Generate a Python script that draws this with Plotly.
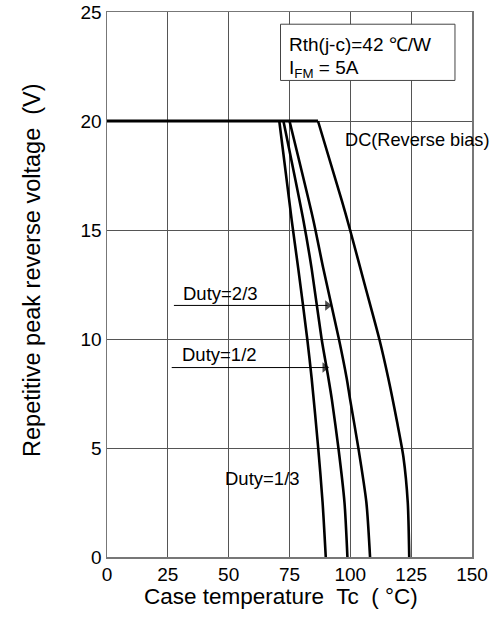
import plotly.graph_objects as go

# ---- data ----
x_ticks = [0, 25, 50, 75, 100, 125, 150]
y_ticks = [0, 5, 10, 15, 20, 25]

rated_temp = [0, 86.7]
rated_v = [20, 20]

duty13_temp = [70.8, 75.9, 78.6, 82.3, 84.1, 86.8, 88.6, 89.9]
duty13_v = [20, 15.45, 13.23, 10, 8.2, 5, 2.5, 0]

duty12_temp = [72.5, 80.7, 84.1, 88.2, 91.0, 92.4, 95.1, 97.6, 98.8]
duty12_v = [20, 15.45, 13.23, 10, 8.2, 7.23, 5, 2.5, 0]

duty23_temp = [75.0, 84.8, 88.9, 95.3, 98.5, 99.9, 103.3, 106.6, 108.1]
duty23_v = [20, 15.45, 13.23, 10, 8.2, 7.23, 5, 2.5, 0]

dc_temp = [86.7, 96.5, 99.9, 105.9, 111.9, 115.6, 119.2, 121.8, 123.6, 124.2]
dc_v = [20, 16.35, 15, 12.5, 10, 8.2, 6.2, 4.6, 2.5, 0]

# pointer arrows (tail temp, tip temp, voltage)
arrow23 = [27.5, 90.6, 11.54]
arrow12 = [26.6, 89.5, 8.69]

FONT = "Liberation Sans, Arial, sans-serif"

fig = go.Figure()
fig.add_trace(go.Scatter(x=rated_temp, y=rated_v, mode="lines",
                         line=dict(color="black", width=3), showlegend=False))
for tx, vy in [(duty13_temp, duty13_v), (duty12_temp, duty12_v),
               (duty23_temp, duty23_v), (dc_temp, dc_v)]:
    fig.add_trace(go.Scatter(x=tx, y=vy, mode="lines",
                             line=dict(color="black", width=2.6, shape="spline", smoothing=0.7),
                             showlegend=False))

for a in (arrow23, arrow12):
    fig.add_trace(go.Scatter(x=[a[0], a[1]], y=[a[2], a[2]], mode="lines+markers",
                             line=dict(color="black", width=1),
                             marker=dict(symbol=["line-ns", "triangle-right"], size=[0, 9],
                                         color="black", line=dict(width=0)),
                             showlegend=False))

ax_common = dict(showgrid=True, gridcolor="#555555", gridwidth=1, zeroline=False,
                 showline=True, mirror=True, linecolor="#777777", linewidth=1.5,
                 ticks="", automargin=False,
                 tickfont=dict(family=FONT, size=19, color="black"))
fig.update_xaxes(range=[0, 150], tickvals=x_ticks, **ax_common)
fig.update_yaxes(range=[0, 25], tickvals=y_ticks, **ax_common)

# info box
fig.add_shape(type="rect", xref="x", yref="y", x0=71.3, x1=143.0, y0=21.86, y1=24.44,
              line=dict(color="#444444", width=1), fillcolor="white", layer="above")

ann = []
def txt(x, y, s, size=18, **kw):
    ann.append(dict(x=x, y=y, xref="x", yref="y", text=s, showarrow=False,
                    xanchor="left", yanchor="middle",
                    font=dict(family=FONT, size=size, color="black"), **kw))

txt(73.8, 23.5, "Rth(j-c)=42 ℃/W", size=19)
txt(73.8, 22.4, "I<sub>FM</sub> = 5A", size=19)
txt(97.0, 19.14, "DC(Reverse bias)", size=18.2)
txt(30.6, 12.08, "Duty=2/3", size=18.5)
txt(29.8, 9.31, "Duty=1/2", size=18.5)
txt(47.6, 3.62, "Duty=1/3", size=18.5)

ann.append(dict(x=0.477, y=-0.073, xref="paper", yref="paper", showarrow=False,
                text="Case temperature  Tc  ( °C)", xanchor="center", yanchor="middle",
                font=dict(family=FONT, size=22.5, color="black")))
ann.append(dict(x=-0.205, y=0.527, xref="paper", yref="paper", showarrow=False,
                text="Repetitive peak reverse voltage  (V)", textangle=-90,
                xanchor="center", yanchor="middle",
                font=dict(family=FONT, size=23.5, color="black")))

fig.update_layout(width=497, height=626, margin=dict(l=107, r=25, t=12, b=69, autoexpand=False),
                  plot_bgcolor="white", paper_bgcolor="white", annotations=ann,
                  font=dict(family=FONT), hovermode=False)

# remove the browser's default 8px body margin so the figure fills the window exactly
fig.write_html("out.html", config={"displayModeBar": False, "staticPlot": True},
               post_script="document.body.style.margin='0';document.body.style.overflow='hidden';")
